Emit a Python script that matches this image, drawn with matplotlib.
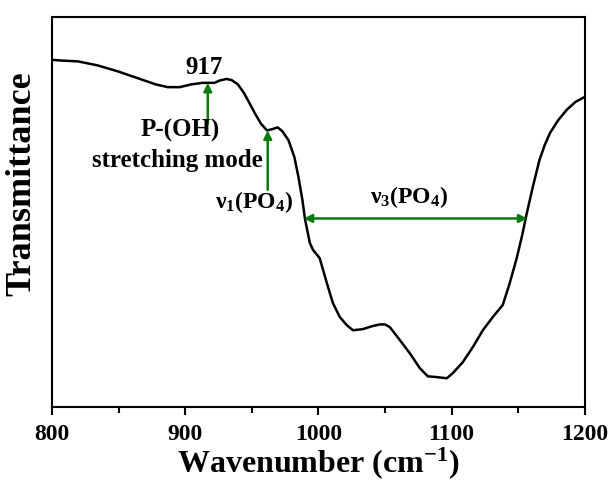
import matplotlib
matplotlib.use("Agg")
import matplotlib.pyplot as plt
from matplotlib.ticker import MultipleLocator

wavenumber = [800, 808, 819.6, 834, 849, 863.5, 878, 887, 896, 904.5, 913, 922, 926, 931, 935,
              939.6, 944, 948, 952.7, 957, 961.5, 966, 969.4, 973, 977.6, 982, 985, 988, 990,
              993.6, 996, 1001, 1006.4, 1010.9, 1016.1, 1021.4, 1026, 1033.4, 1040.9, 1046.2,
              1050, 1053.7, 1061.2, 1068.7, 1076.2, 1082.2, 1089, 1096.4, 1100.9, 1108.4,
              1116, 1123.5, 1131, 1138.5, 1143.7, 1148.8, 1153, 1156.5, 1161, 1166, 1170,
              1174, 1180, 1186.5, 1193, 1200]
transmittance = [0.890, 0.888, 0.886, 0.876, 0.861, 0.844, 0.827, 0.820, 0.820, 0.827, 0.831,
                 0.831, 0.837, 0.841, 0.838, 0.827, 0.806, 0.781, 0.751, 0.726, 0.709, 0.713,
                 0.717, 0.707, 0.684, 0.641, 0.591, 0.532, 0.482, 0.421, 0.403, 0.382, 0.318,
                 0.267, 0.231, 0.210, 0.197, 0.200, 0.208, 0.212, 0.212, 0.205, 0.172, 0.138,
                 0.100, 0.079, 0.077, 0.074, 0.087, 0.115, 0.154, 0.197, 0.231, 0.262, 0.318,
                 0.380, 0.440, 0.497, 0.564, 0.633, 0.672, 0.703, 0.735, 0.762, 0.782, 0.795]

xticks = [800, 900, 1000, 1100, 1200]

peak_917 = 917
peak_v1 = 962
v3_range = (989, 1157)

green = "#0a7a0a"
plt.rcParams['font.family'] = ['Liberation Serif', 'DejaVu Serif']
plt.rcParams['mathtext.fontset'] = 'custom'
plt.rcParams['mathtext.rm'] = 'Liberation Serif:bold'
plt.rcParams['mathtext.bf'] = 'Liberation Serif:bold'
plt.rcParams['mathtext.it'] = 'Liberation Serif:bold'

fig = plt.figure(figsize=(6.11, 4.83), dpi=100)
ax = fig.add_axes([0.085, 0.157, 0.872, 0.808])
ax.plot(wavenumber, transmittance, color="black", lw=1.8, solid_joinstyle='round')
ax.set_xlim(800, 1200)
ax.set_ylim(0, 1)
ax.set_xticks(xticks)
ax.xaxis.set_minor_locator(MultipleLocator(50))
ax.set_yticks([])
ax.tick_params(axis='x', which='major', direction='out', length=6, width=1.5,
               labelsize=17, pad=6)
ax.tick_params(axis='x', which='minor', direction='out', length=4, width=1.5)
for lbl in ax.get_xticklabels():
    lbl.set_fontweight('bold')
for s in ax.spines.values():
    s.set_linewidth(1.5)
ax.set_xlabel(r"Wavenumber (cm$^{-1}$)", fontsize=23, fontweight='bold', labelpad=0)
ax.set_ylabel("Transmittance", fontsize=26, fontweight='bold')
ax.yaxis.set_label_coords(-0.026, 0.572)

ap = dict(arrowstyle='-|>', color=green, lw=1.8, mutation_scale=12, shrinkA=0, shrinkB=0)
ax.annotate("", xy=(peak_917, 0.831), xytext=(peak_917, 0.726), arrowprops=ap)
ax.annotate("", xy=(peak_v1, 0.709), xytext=(peak_v1, 0.557), arrowprops=ap)
ap2 = dict(arrowstyle='<|-|>', color=green, lw=1.8, mutation_scale=12, shrinkA=0, shrinkB=0)
ax.annotate("", xy=(v3_range[0], 0.4835), xytext=(v3_range[1], 0.4835), arrowprops=ap2)

tk = dict(fontsize=18, fontweight='bold', ha='center', va='center')
ax.text(914.5, 0.870, "917", **tk)
ax.text(896, 0.708, "P-(OH)", **tk)
ax.text(894.5, 0.632, "stretching mode", **tk)
tk2 = dict(fontsize=17, fontweight='bold', ha='center', va='center')
ax.text(952, 0.525, r"$\nu_{1}$(PO$_{4}$)", **tk2)
ax.text(1068, 0.538, r"$\nu_{3}$(PO$_{4}$)", **tk2)

fig.savefig("out.png", dpi=100)
